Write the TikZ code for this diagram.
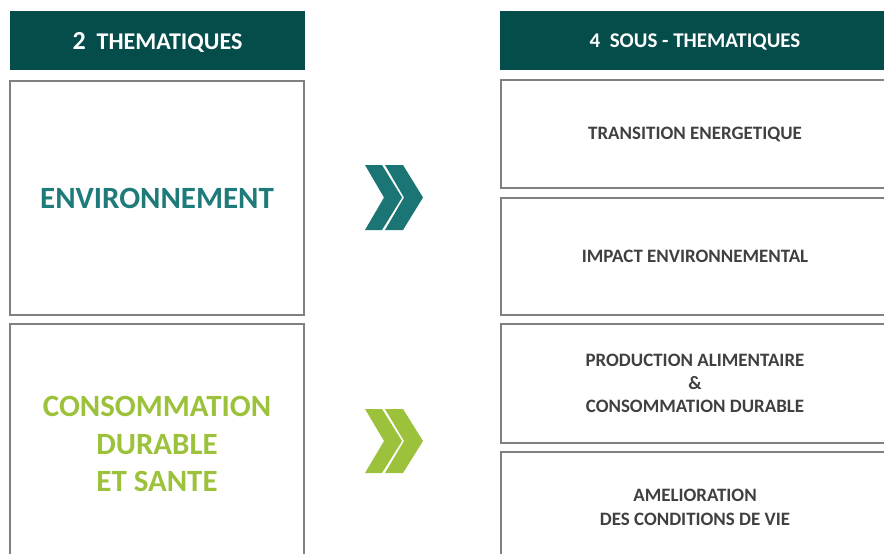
\documentclass[tikz,border=0pt]{standalone}
\usepackage{fontspec}
\setmainfont{Carlito}
\usetikzlibrary{positioning}
\definecolor{headteal}{HTML}{044D4B}
\definecolor{envteal}{HTML}{1E7B7A}
\definecolor{chevteal}{HTML}{1A7574}
\definecolor{sagreen}{HTML}{9CC23B}
\definecolor{boxgray}{HTML}{808080}
\definecolor{txtgray}{HTML}{404040}
\tikzset{
  header/.style={fill=headteal, text=white, font=\bfseries, inner sep=0pt, text depth=0pt, align=center},
  themebox/.style={draw=boxgray, line width=1.3pt, fill=white, inner sep=0pt, align=center, font=\bfseries\fontsize{23.2}{28}\selectfont},
  sousbox/.style={draw=boxgray, line width=1.3pt, fill=white, inner sep=0pt, minimum width=291pt, align=center, text=txtgray, font=\bfseries\fontsize{14.2}{17.5}\selectfont}
}
\begin{document}
\begin{tikzpicture}[x=0.75pt,y=-0.75pt]
  \useasboundingbox (0,0) rectangle (884,553);
  % headers
  \node[header, minimum width=221.25pt, minimum height=44.25pt, font=\bfseries\fontsize{18}{20}\selectfont] (headA) at (157.5,40.5) {{\fontsize{19.5}{20}\selectfont 2}\ \ THEMATIQUES};
  \node[header, minimum width=292.5pt, minimum height=44.25pt, font=\bfseries\fontsize{15.7}{18}\selectfont] (headB) at (695,40.5) {4\ \ SOUS - THEMATIQUES};
  % two thematic boxes
  \node[themebox, minimum width=220.5pt, minimum height=175.5pt, text=envteal] (envir) at (157,198) {ENVIRONNEMENT};
  \node[themebox, minimum width=220.5pt, minimum height=180pt, text=sagreen] (conso) at (157,444) {CONSOMMATION\\DURABLE\\ET SANTE};
  % four sub-thematic boxes
  \node[sousbox, minimum height=81pt] (sousA) at (695,134) {TRANSITION ENERGETIQUE};
  \node[sousbox, minimum height=87.75pt] (sousB) at (695,256.5) {IMPACT ENVIRONNEMENTAL};
  \node[sousbox, minimum height=89.25pt] (sousC) at (695,383.5) {PRODUCTION ALIMENTAIRE\\\&\\CONSOMMATION DURABLE};
  \node[sousbox, minimum height=82.5pt, font=\bfseries\fontsize{14.2}{18}\selectfont] (sousD) at (695,507) {AMELIORATION\\DES CONDITIONS DE VIE};
  % chevrons
  \fill[chevteal] (365,165) -- (382,165) -- (402,197.5) -- (382,230) -- (365,230) -- (384,197.5) -- cycle;
  \fill[chevteal] (385,165) -- (403,165) -- (423,197.5) -- (403,230) -- (385,230) -- (404,197.5) -- cycle;
  \fill[sagreen] (365,409) -- (382,409) -- (402,441) -- (382,473) -- (365,473) -- (384,441) -- cycle;
  \fill[sagreen] (385,409) -- (403,409) -- (423,441) -- (403,473) -- (385,473) -- (404,441) -- cycle;
\end{tikzpicture}
\end{document}
